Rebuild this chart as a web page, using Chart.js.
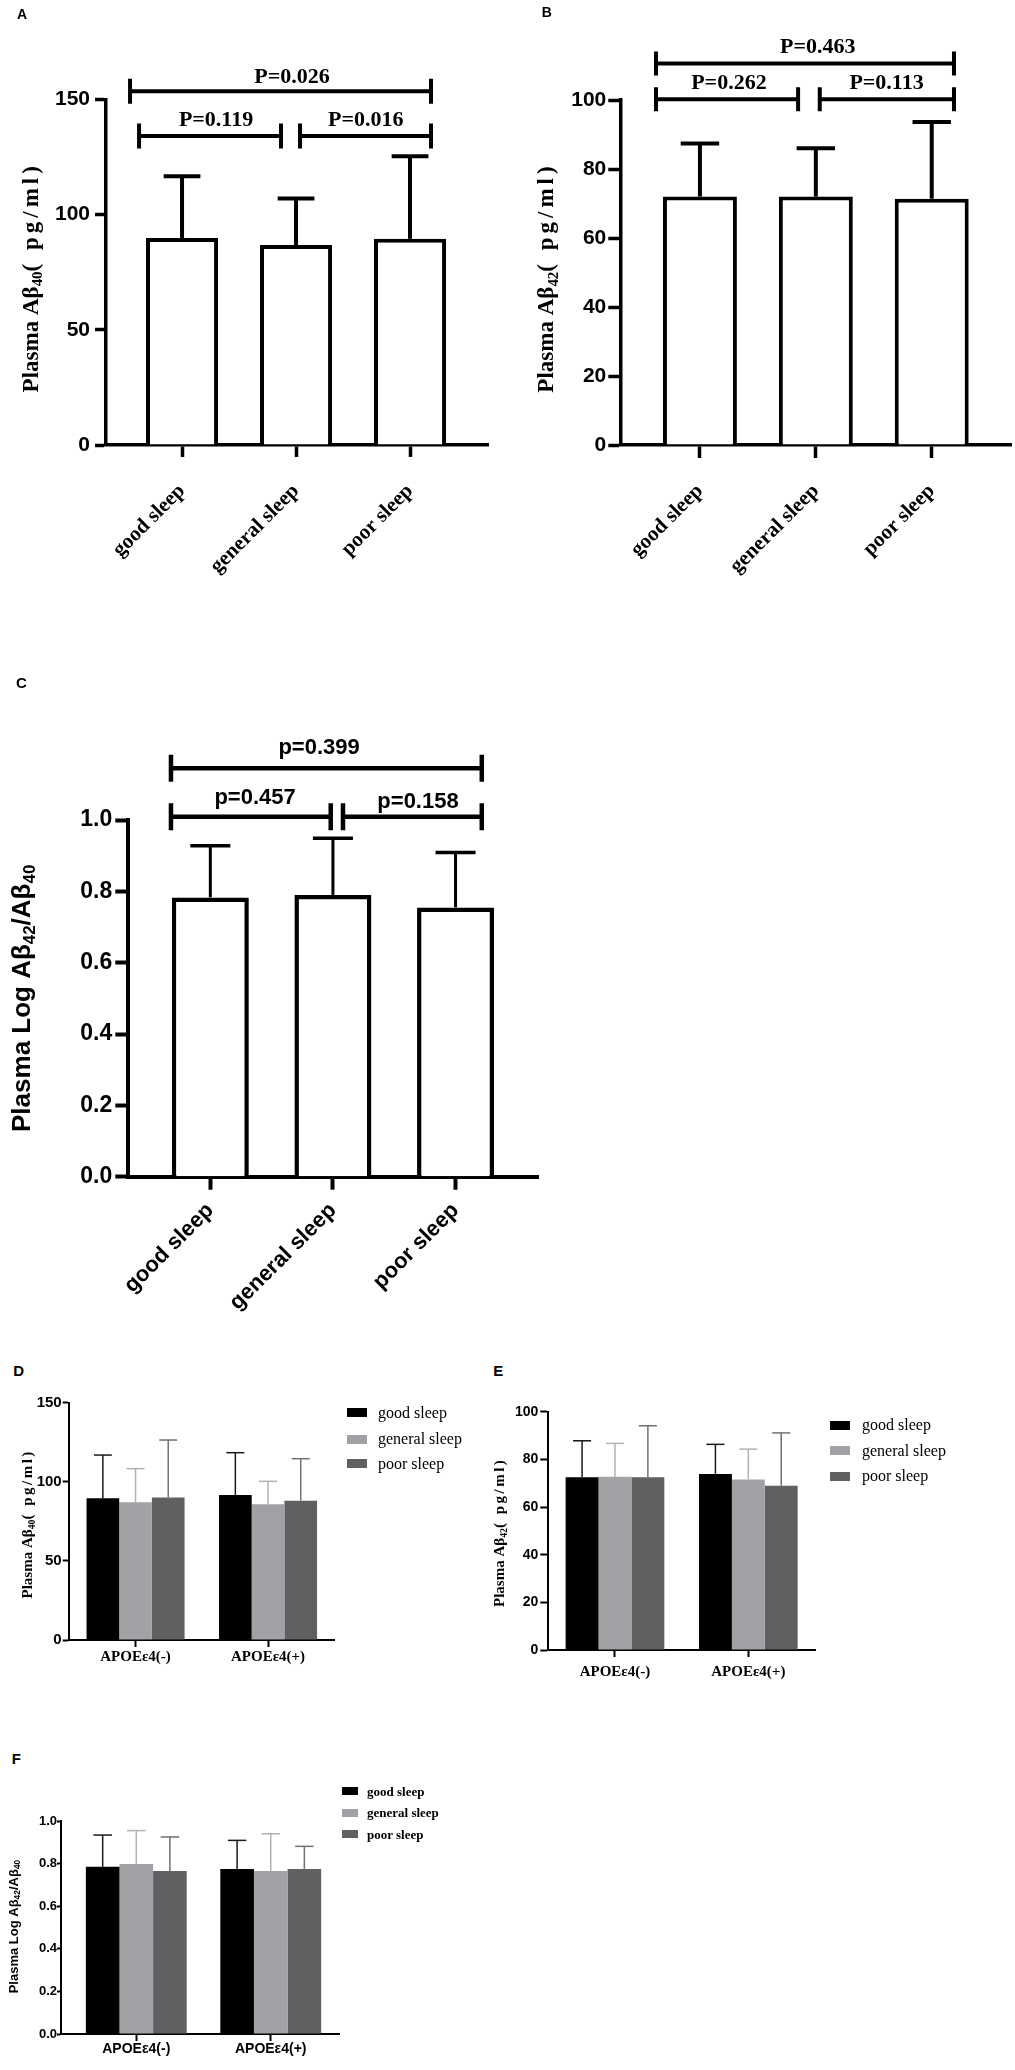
<!DOCTYPE html>
<html><head><meta charset="utf-8">
<script src="https://cdn.jsdelivr.net/npm/chart.js@4.4.1/dist/chart.umd.min.js"></script>
<style>
html,body{margin:0;padding:0;background:#fff;}
body{width:1015px;height:2070px;position:relative;overflow:hidden;}
canvas{position:absolute;}
.plet{position:absolute;font-family:"Liberation Sans",Arial,sans-serif;font-weight:bold;line-height:1;color:#000;}
.lsq{position:absolute;}
.ltx{position:absolute;white-space:nowrap;color:#000;font-family:"Liberation Serif","Times New Roman",serif;}
</style></head><body>
<script>
// ---------------- DATA ----------------
const sleepGroups = ['good sleep', 'general sleep', 'poor sleep'];
const apoeGroups = ['APOEε4(-)', 'APOEε4(+)'];

// Panel A: Plasma Aβ40 (pg/ml)
const abeta40Mean = [89.9, 86.8, 89.5];
const abeta40SD = [26.8, 20.2, 35.9];
const pValuesA = ['P=0.119', 'P=0.016', 'P=0.026'];
const yTicksA = [0, 50, 100, 150];

// Panel B: Plasma Aβ42 (pg/ml)
const abeta42Mean = [72.0, 72.0, 71.4];
const abeta42SD = [15.4, 14.0, 22.2];
const pValuesB = ['P=0.262', 'P=0.113', 'P=0.463'];
const yTicksB = [0, 20, 40, 60, 80, 100];

// Panel C: Plasma Log Aβ42/Aβ40
const ratioMean = [0.783, 0.790, 0.755];
const ratioSD = [0.145, 0.159, 0.154];
const pValuesC = ['p=0.457', 'p=0.158', 'p=0.399'];
const yTicksC = [0, 0.2, 0.4, 0.6, 0.8, 1.0];

// Panel D: Aβ40 by APOEε4 (per sleep group: [APOEε4(-), APOEε4(+)])
const d40Good = [89.6, 91.7];
const d40General = [87.0, 85.8];
const d40Poor = [90.0, 88.1];
const d40GoodSD = [27.3, 26.7];
const d40GeneralSD = [21.3, 14.5];
const d40PoorSD = [36.4, 26.5];
const yTicksD = [0, 50, 100, 150];

// Panel E: Aβ42 by APOEε4
const e42Good = [72.5, 73.9];
const e42General = [72.7, 71.6];
const e42Poor = [72.5, 68.9];
const e42GoodSD = [15.3, 12.4];
const e42GeneralSD = [14.0, 12.7];
const e42PoorSD = [21.6, 22.2];
const yTicksE = [0, 20, 40, 60, 80, 100];

// Panel F: Log Aβ42/Aβ40 by APOEε4
const fRatioGood = [0.785, 0.775];
const fRatioGeneral = [0.798, 0.765];
const fRatioPoor = [0.765, 0.775];
const fRatioGoodSD = [0.149, 0.134];
const fRatioGeneralSD = [0.157, 0.175];
const fRatioPoorSD = [0.160, 0.106];
const yTicksF = [0, 0.2, 0.4, 0.6, 0.8, 1.0];

// ---------------- STYLE ----------------
const SANS = '"Liberation Sans", Arial, sans-serif';
const SERIF = '"Liberation Serif", "Times New Roman", serif';
const GROUP_FILL = ['#000000', '#a2a2a6', '#606060'];
const GROUP_ERR = ['#1a1a1a', '#b2b2b2', '#707070'];

function drawVTitle(ctx, t, cx, cy) {
  ctx.save();
  const fontFor = p => `${t.weight} ${p.sub ? t.size * 0.65 : t.size}px ${t.family}`;
  const widths = [];
  let total = 0;
  t.parts.forEach(p => {
    ctx.font = fontFor(p);
    ctx.letterSpacing = (p.ls || 0) + 'px';
    const w = ctx.measureText(p.s).width;
    widths.push(w); total += w;
  });
  ctx.translate(cx, cy);
  ctx.rotate(-Math.PI / 2);
  ctx.textBaseline = 'middle';
  ctx.textAlign = 'left';
  ctx.fillStyle = '#000';
  let x = -total / 2;
  t.parts.forEach((p, i) => {
    ctx.font = fontFor(p);
    ctx.letterSpacing = (p.ls || 0) + 'px';
    ctx.fillText(p.s, x, p.sub ? t.size * 0.3 : 0);
    x += widths[i];
  });
  ctx.restore();
}

function makeChart(cfg) {
  const canvas = document.createElement('canvas');
  canvas.width = cfg.w; canvas.height = cfg.h;
  canvas.style.left = cfg.left + 'px'; canvas.style.top = cfg.top + 'px';
  canvas.style.width = cfg.w + 'px'; canvas.style.height = cfg.h + 'px';
  document.body.appendChild(canvas);

  const datasets = cfg.series.map(s => ({
    label: s.name,
    data: s.values.map((v, j) => ({ x: j, y: v })),
    backgroundColor: s.fill,
    borderColor: s.border || s.fill,
    borderWidth: s.bw || 0,
    barPercentage: cfg.barPct,
    categoryPercentage: cfg.catPct
  }));

  const extras = {
    id: 'extras' + Math.random().toString(36).slice(2),
    afterDatasetsDraw(chart) {
      const ctx = chart.ctx, ys = chart.scales.y;
      cfg.series.forEach((s, di) => {
        const meta = chart.getDatasetMeta(di);
        meta.data.forEach((bar, j) => {
          const topPx = ys.getPixelForValue(s.values[j] + s.sd[j]);
          const half = bar.width * cfg.err.cap / 2;
          ctx.save();
          ctx.strokeStyle = cfg.err.colors[di];
          ctx.lineCap = 'butt';
          ctx.lineWidth = cfg.err.stem;
          ctx.beginPath(); ctx.moveTo(bar.x, bar.y); ctx.lineTo(bar.x, topPx); ctx.stroke();
          ctx.lineWidth = cfg.err.capW;
          ctx.beginPath(); ctx.moveTo(bar.x - half, topPx); ctx.lineTo(bar.x + half, topPx); ctx.stroke();
          ctx.restore();
        });
      });
    },
    afterDraw(chart) {
      const ctx = chart.ctx, xs = chart.scales.x, ys = chart.scales.y;
      (cfg.brackets || []).forEach(b => {
        const x1 = xs.getPixelForValue(b.x1), x2 = xs.getPixelForValue(b.x2);
        const y = ys.getPixelForValue(b.y), h = cfg.bracketH;
        ctx.save();
        ctx.strokeStyle = '#000'; ctx.lineWidth = cfg.bracketLW; ctx.lineCap = 'butt';
        ctx.beginPath();
        ctx.moveTo(x1, y); ctx.lineTo(x2, y);
        ctx.moveTo(x1, y - h / 2); ctx.lineTo(x1, y + h / 2);
        ctx.moveTo(x2, y - h / 2); ctx.lineTo(x2, y + h / 2);
        ctx.stroke();
        ctx.font = cfg.bracketFont; ctx.fillStyle = '#000';
        ctx.textAlign = 'center'; ctx.textBaseline = 'alphabetic';
        ctx.fillText(b.text, xs.getPixelForValue(b.tx), y - b.dy);
        ctx.restore();
      });
      const ca = chart.chartArea;
      drawVTitle(ctx, cfg.title, cfg.title.x, (ca.top + ca.bottom) / 2 + (cfg.title.dy || 0));
    }
  };

  const axisCommon = (tickLen) => ({
    grid: { display: true, drawOnChartArea: false, drawTicks: true, tickLength: tickLen,
            tickWidth: cfg.axisLW, tickColor: '#000', offset: false },
    border: { display: true, color: '#000', width: cfg.axisLW }
  });

  new Chart(canvas, {
    type: 'bar',
    data: { datasets },
    options: {
      responsive: false,
      animation: false,
      events: [],
      layout: { padding: { top: cfg.padTop, right: cfg.padRight, left: 0, bottom: 0 } },
      plugins: { legend: { display: false }, tooltip: { enabled: false } },
      scales: {
        x: Object.assign({
          type: 'linear', min: cfg.xMin, max: cfg.xMax, offset: false, bounds: 'data',
          afterBuildTicks: sc => { sc.ticks = cfg.categories.map((c, i) => ({ value: i })); },
          afterFit: sc => { sc.height = cfg.xHeight; },
          ticks: {
            autoSkip: false, minRotation: cfg.rot, maxRotation: cfg.rot, padding: cfg.xTickPad,
            color: '#000', font: cfg.xFont,
            callback: v => cfg.categories[Math.round(v)]
          }
        }, axisCommon(cfg.xTickLen)),
        y: Object.assign({
          type: 'linear', min: 0, max: cfg.yMax, bounds: 'data',
          afterBuildTicks: sc => { sc.ticks = cfg.yTicks.map(v => ({ value: v })); },
          afterFit: sc => { sc.width = cfg.yWidth; },
          ticks: { padding: cfg.yTickPad, color: '#000', font: cfg.tickFont,
                   callback: v => cfg.yFmt(v) }
        }, axisCommon(cfg.yTickLen))
      }
    },
    plugins: [extras]
  });
}

function addLetter(txt, left, top, size) {
  const d = document.createElement('div');
  d.className = 'plet'; d.textContent = txt;
  d.style.left = left + 'px'; d.style.top = top + 'px'; d.style.fontSize = size + 'px';
  document.body.appendChild(d);
}
function addLegend(names, colors, lg) {
  names.forEach((n, i) => {
    const cy = lg.centers[i];
    const sq = document.createElement('div');
    sq.className = 'lsq';
    sq.style.left = lg.x + 'px'; sq.style.top = (cy - lg.sh / 2) + 'px';
    sq.style.width = lg.sw + 'px'; sq.style.height = lg.sh + 'px';
    sq.style.background = colors[i];
    document.body.appendChild(sq);
    const t = document.createElement('div');
    t.className = 'ltx'; t.textContent = n;
    const lh = Math.round(lg.size * 1.15);
    t.style.left = lg.tx + 'px'; t.style.top = (cy - lh / 2) + 'px';
    t.style.lineHeight = lh + 'px'; t.style.fontSize = lg.size + 'px';
    t.style.fontWeight = lg.weight;
    document.body.appendChild(t);
  });
}

const fmtInt = v => String(v);
const fmt1 = v => v.toFixed(1);

// ---------- Panel A ----------
makeChart({
  left: 0, top: 0, w: 500, h: 600, yWidth: 106, padTop: 99.5, padRight: 12, xHeight: 155,
  xMin: -0.667, xMax: 2.684, categories: sleepGroups, rot: 45,
  yMax: 150, yTicks: yTicksA, yFmt: fmtInt,
  series: [{ name: 'Aβ40', values: abeta40Mean, sd: abeta40SD, fill: '#ffffff', border: '#000', bw: 4 }],
  barPct: 0.632, catPct: 1,
  axisLW: 3.5, yTickLen: 11, yTickPad: 5, xTickLen: 12, xTickPad: 22,
  tickFont: { family: SANS, size: 21, weight: 'bold' },
  xFont: { family: SERIF, size: 21, weight: 'bold' },
  err: { colors: ['#000'], stem: 4, capW: 4, cap: 0.51 },
  brackets: [
    { x1: -0.377, x2: 0.868, y: 134.1, tx: 0.298, dy: 10, text: pValuesA[0] },
    { x1: 1.035, x2: 2.184, y: 134.1, tx: 1.611, dy: 10, text: pValuesA[1] },
    { x1: -0.456, x2: 2.184, y: 153.6, tx: 0.965, dy: 8, text: pValuesA[2] }
  ],
  bracketLW: 4, bracketH: 25, bracketFont: 'bold 22px ' + SERIF,
  title: { parts: [{ s: 'Plasma Aβ' }, { s: '40', sub: true }, { s: '( pg/ml)', ls: 4 }],
           size: 23, family: SERIF, weight: 'bold', x: 31.7, dy: 5 }
});

// ---------- Panel B ----------
makeChart({
  left: 500, top: 0, w: 515, h: 600, yWidth: 121, padTop: 100, padRight: 3.3, xHeight: 155,
  xMin: -0.681, xMax: 2.690, categories: sleepGroups, rot: 45,
  yMax: 100, yTicks: yTicksB, yFmt: fmtInt,
  series: [{ name: 'Aβ42', values: abeta42Mean, sd: abeta42SD, fill: '#ffffff', border: '#000', bw: 4 }],
  barPct: 0.638, catPct: 1,
  axisLW: 3.5, yTickLen: 12.7, yTickPad: 2, xTickLen: 13, xTickPad: 21,
  tickFont: { family: SANS, size: 21, weight: 'bold' },
  xFont: { family: SERIF, size: 21, weight: 'bold' },
  err: { colors: ['#000'], stem: 4, capW: 4, cap: 0.52 },
  brackets: [
    { x1: -0.379, x2: 0.847, y: 100.2, tx: 0.25, dy: 10, text: pValuesB[0] },
    { x1: 1.034, x2: 2.192, y: 100.2, tx: 1.61, dy: 10, text: pValuesB[1] },
    { x1: -0.379, x2: 2.192, y: 110.6, tx: 1.017, dy: 10, text: pValuesB[2] }
  ],
  bracketLW: 4, bracketH: 24, bracketFont: 'bold 22px ' + SERIF,
  title: { parts: [{ s: 'Plasma Aβ' }, { s: '42', sub: true }, { s: '( pg/ml)', ls: 4 }],
           size: 23, family: SERIF, weight: 'bold', x: 47.5, dy: 5 }
});

// ---------- Panel C ----------
makeChart({
  left: 0, top: 640, w: 560, h: 720, yWidth: 128.3, padTop: 180, padRight: 21.7, xHeight: 183.3,
  xMin: -0.669, xMax: 2.675, categories: sleepGroups, rot: 45,
  yMax: 1.0, yTicks: yTicksC, yFmt: fmt1,
  series: [{ name: 'ratio', values: ratioMean, sd: ratioSD, fill: '#ffffff', border: '#000', bw: 4.5 }],
  barPct: 0.628, catPct: 1,
  axisLW: 4, yTickLen: 13, yTickPad: 3, xTickLen: 13, xTickPad: 8,
  tickFont: { family: SANS, size: 23, weight: 'bold' },
  xFont: { family: SANS, size: 22, weight: 'bold' },
  err: { colors: ['#000'], stem: 3, capW: 3.5, cap: 0.52 },
  brackets: [
    { x1: -0.321, x2: 0.982, y: 1.009, tx: 0.365, dy: 13, text: pValuesC[0] },
    { x1: 1.082, x2: 2.214, y: 1.009, tx: 1.694, dy: 9, text: pValuesC[1] },
    { x1: -0.321, x2: 2.214, y: 1.145, tx: 0.887, dy: 14, text: pValuesC[2] }
  ],
  bracketLW: 4.5, bracketH: 27, bracketFont: 'bold 22px ' + SANS,
  title: { parts: [{ s: 'Plasma Log Aβ' }, { s: '42', sub: true }, { s: '/Aβ' }, { s: '40', sub: true }],
           size: 26, family: SANS, weight: 'bold', x: 22.5, dy: 0 }
});

// ---------- Panel D ----------
makeChart({
  left: 0, top: 1380, w: 480, h: 300, yWidth: 69.3, padTop: 22.7, padRight: 145.7, xHeight: 40,
  xMin: -0.5, xMax: 1.5, categories: apoeGroups, rot: 0,
  yMax: 150, yTicks: yTicksD, yFmt: fmtInt,
  series: [
    { name: sleepGroups[0], values: d40Good, sd: d40GoodSD, fill: GROUP_FILL[0] },
    { name: sleepGroups[1], values: d40General, sd: d40GeneralSD, fill: GROUP_FILL[1] },
    { name: sleepGroups[2], values: d40Poor, sd: d40PoorSD, fill: GROUP_FILL[2] }
  ],
  barPct: 1, catPct: 0.74,
  axisLW: 2, yTickLen: 6.6, yTickPad: 1, xTickLen: 7, xTickPad: 1,
  tickFont: { family: SANS, size: 15, weight: 'bold' },
  xFont: { family: SERIF, size: 15, weight: 'bold' },
  err: { colors: GROUP_ERR, stem: 1.5, capW: 1.5, cap: 0.55 },
  title: { parts: [{ s: 'Plasma Aβ' }, { s: '40', sub: true }, { s: '( pg/ml)', ls: 2.5 }],
           size: 15, family: SERIF, weight: 'bold', x: 28, dy: 2.5 }
});

// ---------- Panel E ----------
makeChart({
  left: 480, top: 1380, w: 535, h: 310, yWidth: 68.3, padTop: 31.7, padRight: 200, xHeight: 40,
  xMin: -0.5, xMax: 1.5, categories: apoeGroups, rot: 0,
  yMax: 100, yTicks: yTicksE, yFmt: fmtInt,
  series: [
    { name: sleepGroups[0], values: e42Good, sd: e42GoodSD, fill: GROUP_FILL[0] },
    { name: sleepGroups[1], values: e42General, sd: e42GeneralSD, fill: GROUP_FILL[1] },
    { name: sleepGroups[2], values: e42Poor, sd: e42PoorSD, fill: GROUP_FILL[2] }
  ],
  barPct: 1, catPct: 0.74,
  axisLW: 2, yTickLen: 8, yTickPad: 2, xTickLen: 7, xTickPad: 6,
  tickFont: { family: SANS, size: 14, weight: 'bold' },
  xFont: { family: SERIF, size: 15, weight: 'bold' },
  err: { colors: GROUP_ERR, stem: 1.5, capW: 1.5, cap: 0.55 },
  title: { parts: [{ s: 'Plasma Aβ' }, { s: '42', sub: true }, { s: '( pg/ml)', ls: 2.5 }],
           size: 15, family: SERIF, weight: 'bold', x: 20, dy: 1.5 }
});

// ---------- Panel F ----------
makeChart({
  left: 0, top: 1780, w: 480, h: 290, yWidth: 61, padTop: 41, padRight: 140.7, xHeight: 36,
  xMin: -0.56, xMax: 1.51, categories: apoeGroups, rot: 0,
  yMax: 1.0, yTicks: yTicksF, yFmt: fmt1,
  series: [
    { name: sleepGroups[0], values: fRatioGood, sd: fRatioGoodSD, fill: GROUP_FILL[0] },
    { name: sleepGroups[1], values: fRatioGeneral, sd: fRatioGeneralSD, fill: GROUP_FILL[1] },
    { name: sleepGroups[2], values: fRatioPoor, sd: fRatioPoorSD, fill: GROUP_FILL[2] }
  ],
  barPct: 1, catPct: 0.75,
  axisLW: 2, yTickLen: 4, yTickPad: 0, xTickLen: 7, xTickPad: 0,
  tickFont: { family: SANS, size: 13, weight: 'bold' },
  xFont: { family: SANS, size: 14, weight: 'bold' },
  err: { colors: GROUP_ERR, stem: 1.5, capW: 1.5, cap: 0.55 },
  title: { parts: [{ s: 'Plasma Log Aβ' }, { s: '42', sub: true }, { s: '/Aβ' }, { s: '40', sub: true }],
           size: 13, family: SANS, weight: 'bold', x: 14, dy: -1 }
});

// ---------- Panel letters ----------
addLetter('A', 17, 6.5, 14);
addLetter('B', 541.7, 5, 14);
addLetter('C', 16, 674.7, 15);
addLetter('D', 13.3, 1363, 15);
addLetter('E', 493.3, 1363, 15);
addLetter('F', 11.7, 1751.3, 15);

// ---------- Legends ----------
addLegend(sleepGroups, GROUP_FILL, { x: 347, sw: 20, sh: 9, centers: [1412.5, 1439, 1463.5], tx: 378, size: 16, weight: 'normal' });
addLegend(sleepGroups, GROUP_FILL, { x: 830, sw: 20, sh: 9, centers: [1425, 1450.7, 1476], tx: 862, size: 16, weight: 'normal' });
addLegend(sleepGroups, GROUP_FILL, { x: 341.7, sw: 16.6, sh: 8.3, centers: [1791, 1812.7, 1834], tx: 367, size: 13, weight: 'bold' });
</script>
</body></html>
